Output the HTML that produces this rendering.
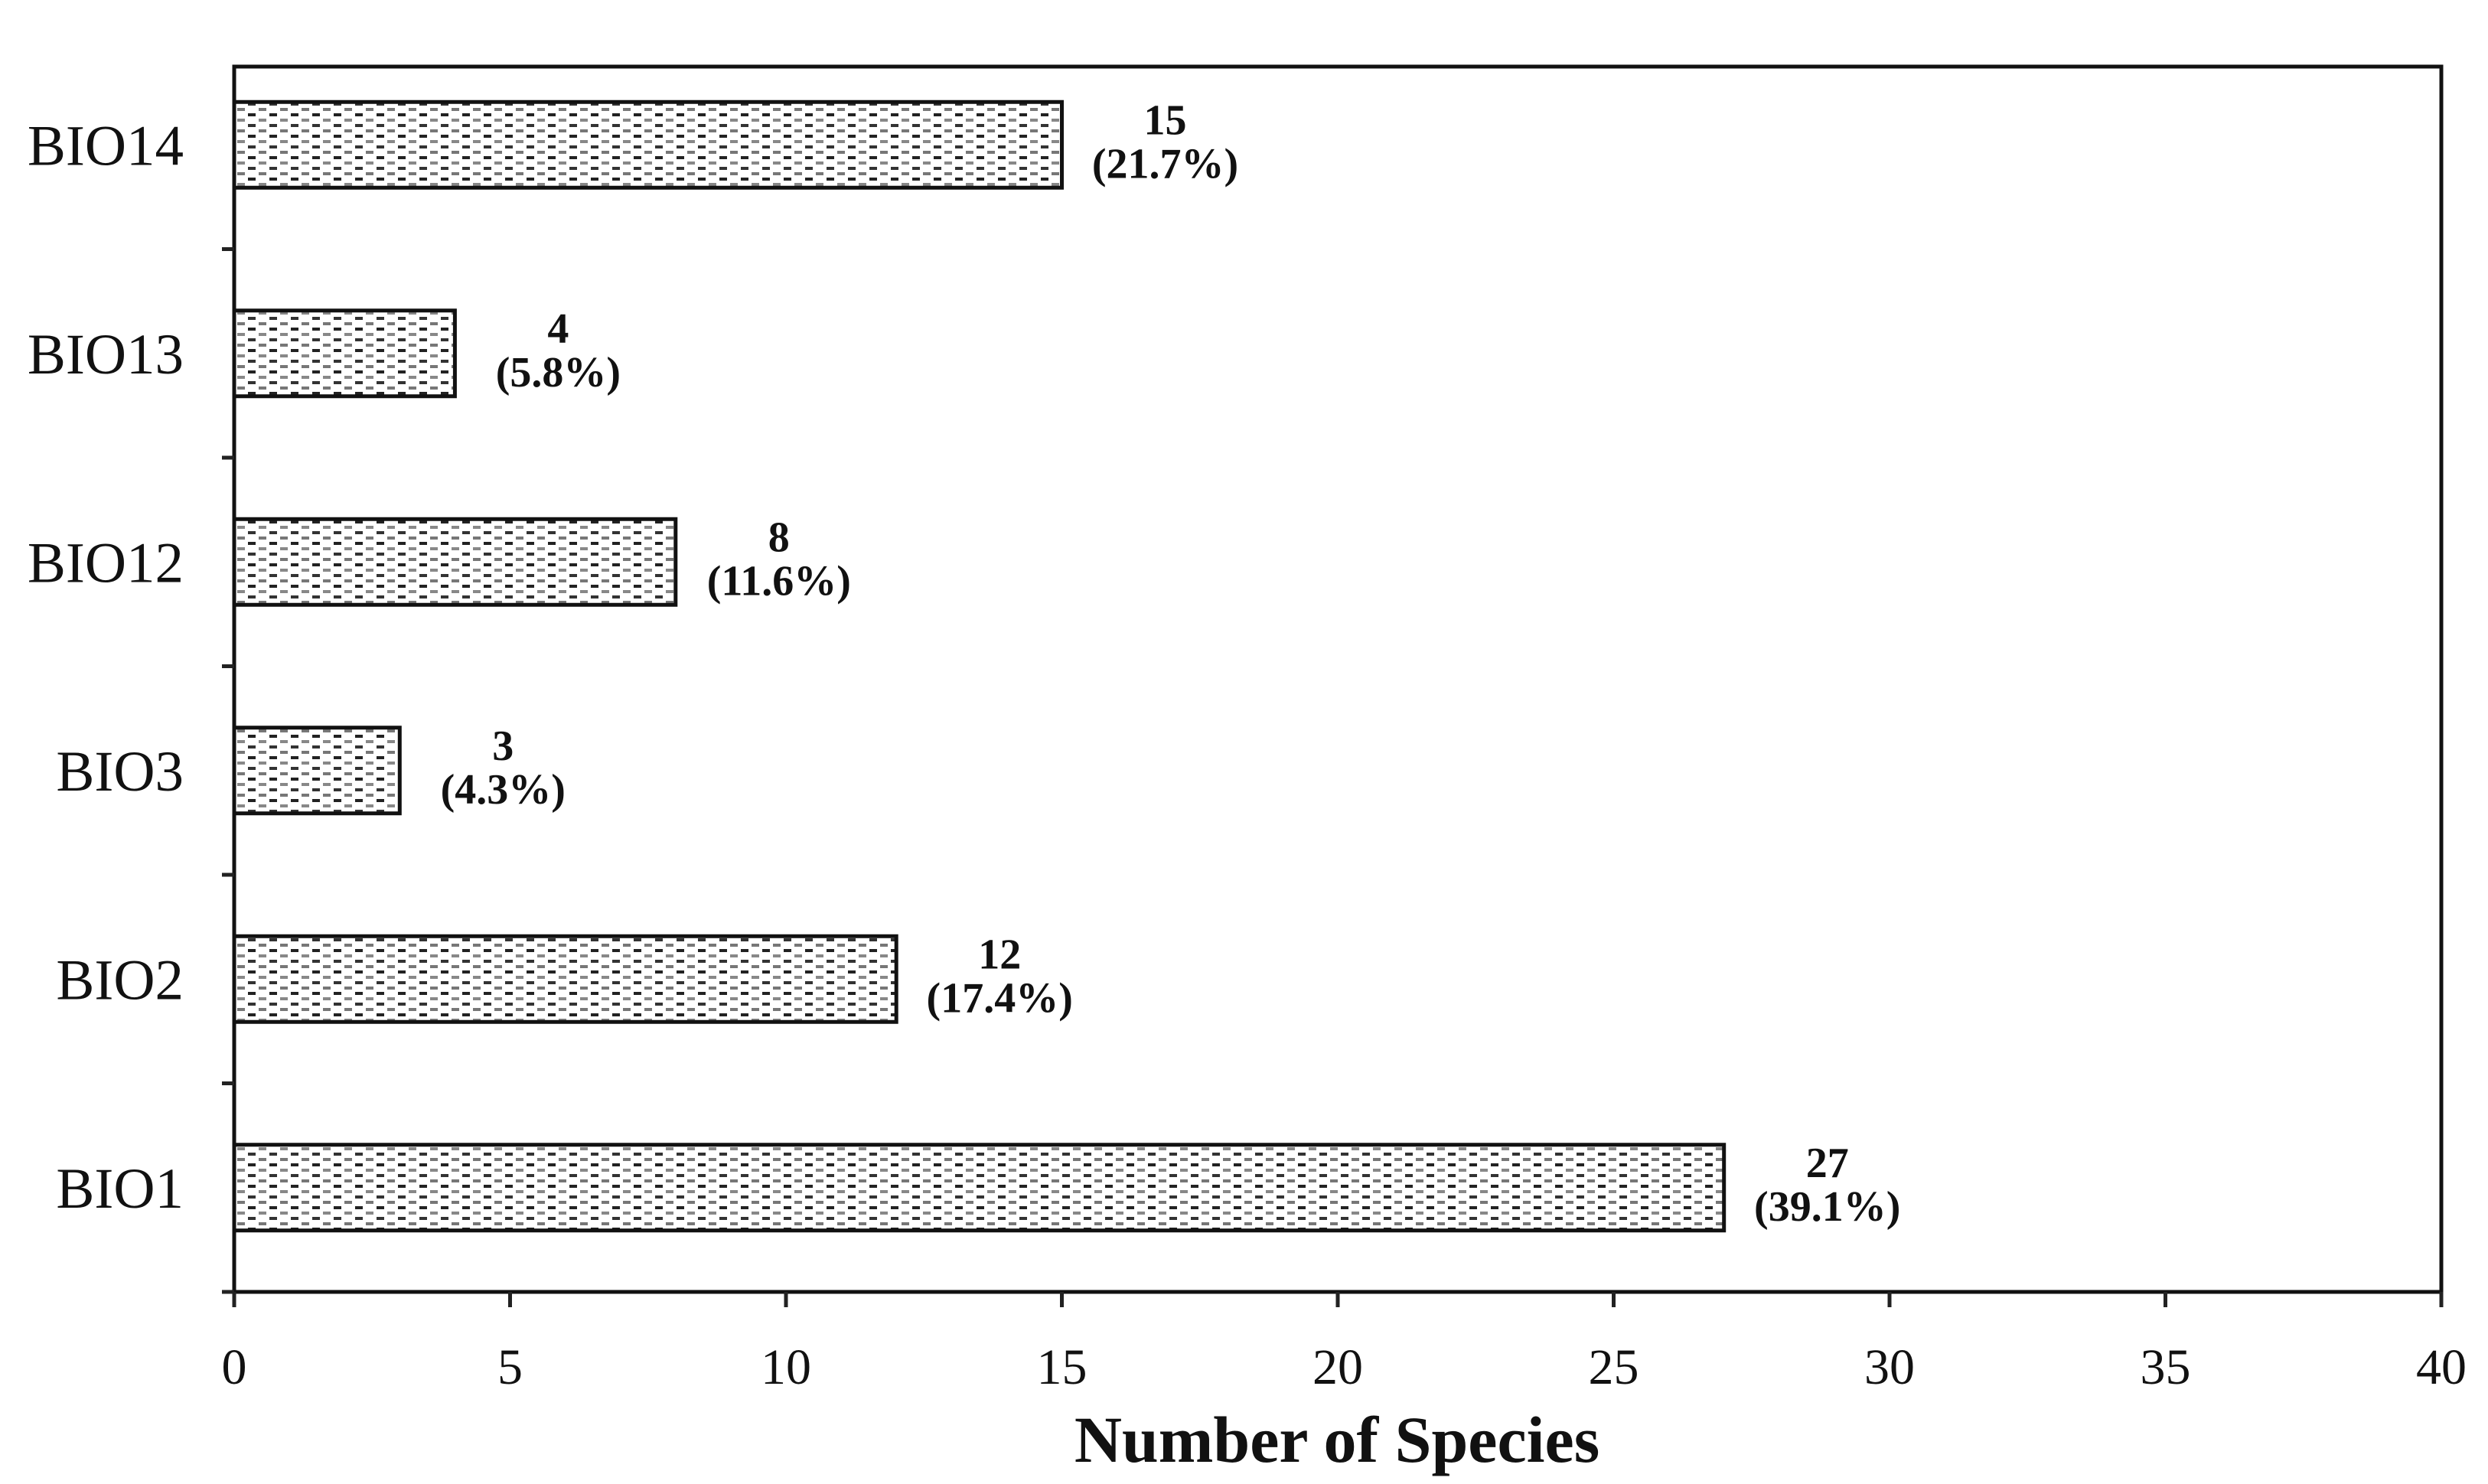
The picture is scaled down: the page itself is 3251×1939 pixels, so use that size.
<!DOCTYPE html>
<html><head><meta charset="utf-8"><style>
html,body{margin:0;padding:0;background:#fff;}
svg{display:block;font-family:"Liberation Serif",serif;}
</style></head><body>
<svg id="chart" width="3251" height="1939" viewBox="0 0 3251 1939">
<defs>
<pattern id="hatch" patternUnits="userSpaceOnUse" width="28" height="28">
<rect width="28" height="28" fill="#fff"/>
<line x1="2" y1="3" x2="12" y2="3" stroke="#777" stroke-width="4"/>
<line x1="16" y1="10" x2="26" y2="10" stroke="#222" stroke-width="4"/>
<line x1="2" y1="17" x2="12" y2="17" stroke="#888" stroke-width="4"/>
<line x1="16" y1="24" x2="26" y2="24" stroke="#333" stroke-width="4"/>
</pattern>
</defs>
<g id="plot"></g>
</svg>
<script>
const categories = ["BIO1","BIO2","BIO3","BIO12","BIO13","BIO14"];
const counts = [27,12,3,8,4,15];
const percents = ["(39.1%)","(17.4%)","(4.3%)","(11.6%)","(5.8%)","(21.7%)"];
const xTicks = [0,5,10,15,20,25,30,35,40];

const NS="http://www.w3.org/2000/svg";
const g=document.getElementById('plot');
const L=306,R=3190,T=87,B=1688,band=272.5,barH=112;
const xs=v=>L+v*(R-L)/40;
const yc=i=>B-band*(i+0.5);
function mk(tag,attrs,txt){const e=document.createElementNS(NS,tag);for(const k in attrs)e.setAttribute(k,attrs[k]);if(txt!==undefined)e.textContent=txt;g.appendChild(e);return e;}

let frame=mk('rect',{x:L,y:T,width:R-L,height:B-T,fill:'none',stroke:'#111','stroke-width':5});



for(let i=0;i<=categories.length;i++){
  const y=B-band*i;
  if(y<T)continue;
  const t=mk('line',{x1:L-16,y1:y,x2:L,y2:y,stroke:'#222','stroke-width':5});
  
  
}
xTicks.forEach(v=>{
  const x=xs(v);
  const t=mk('line',{x1:x,y1:B,x2:x,y2:B+20,stroke:'#222','stroke-width':5});
  
  
  const lb=mk('text',{x:x,y:1808,'font-size':66,'text-anchor':'middle',fill:'#111'},String(v));
  
  
});

categories.forEach((c,i)=>{
  const y=yc(i);
  const lb=mk('text',{x:240,y:y+26,'font-size':75,'text-anchor':'end',fill:'#111'},c);
  
  
  const bar=mk('rect',{x:L,y:y-barH/2,width:xs(counts[i])-L,height:barH,fill:'url(#hatch)',stroke:'#111','stroke-width':5});
  
  
  const cx=xs(counts[i])+135;
  const n=mk('text',{x:cx,y:y-14,'font-size':56,'font-weight':'bold','text-anchor':'middle',fill:'#111'},String(counts[i]));
  
  
  const p=mk('text',{x:cx,y:y+43,'font-size':56,'font-weight':'bold','text-anchor':'middle',fill:'#111'},percents[i]);
  
  
});

const title=mk('text',{x:1747,y:1910,'font-size':86,'font-weight':'bold','text-anchor':'middle',fill:'#111'},'Number of Species');


</script>
</body></html>
